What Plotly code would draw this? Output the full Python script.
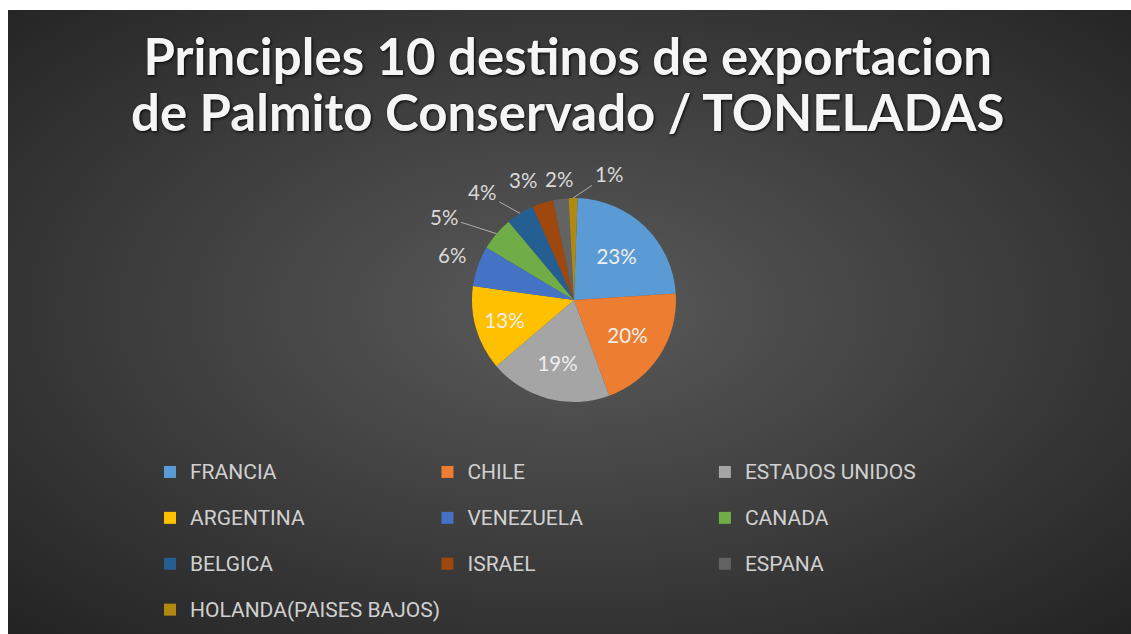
import base64
import math
import plotly.graph_objects as go

# Export destinations of preserved heart of palm (tonnes)
destinos = ["FRANCIA", "CHILE", "ESTADOS UNIDOS", "ARGENTINA", "VENEZUELA",
            "CANADA", "BELGICA", "ISRAEL", "ESPANA", "HOLANDA(PAISES BAJOS)"]
toneladas = [2340, 2040, 1935, 1340, 640, 535, 440, 335, 245, 140]
colores = ["#5B9BD5", "#ED7D31", "#A5A5A5", "#FFC000", "#4472C4",
           "#70AD47", "#255E91", "#9E480E", "#636363", "#B08A10"]

titulo_lineas = ["Principles 10 destinos de exportacion",
                 "de Palmito Conservado / TONELADAS"]

W, H = 1131, 634
MR = 30                            # right margin (narrows the legend row width)
PW = W - MR                        # plotting width in pixels
CX, CY, R = 574, 300, 102          # pie centre and radius in pixels
ROT = 2                            # first slice starts 2 degrees past 12 o'clock
N_DENTRO = 4                       # the four largest slices carry their label inside
FUENTE = "Lato, sans-serif"

# Radial dark background for the chart area
svg = (
    '<svg xmlns="http://www.w3.org/2000/svg" width="1123" height="624">'
    '<defs><radialGradient id="g" cx="50%" cy="48%" r="72%">'
    '<stop offset="0" stop-color="#5a5a5a"/>'
    '<stop offset="0.55" stop-color="#3c3c3c"/>'
    '<stop offset="1" stop-color="#232323"/>'
    '</radialGradient></defs>'
    '<rect width="1123" height="624" fill="url(#g)"/></svg>'
)
fondo = "data:image/svg+xml;base64," + base64.b64encode(svg.encode()).decode()

# Legend entries: glyphs at 21px inside a 33px line box so rows sit ~46px apart
etiquetas_leyenda = [
    f"<span style='font-size:21px;baseline-shift:6px'>{d}</span>" for d in destinos
]
titulo = "<br>".join(f"<span style='font-size:51px'>{t}</span>" for t in titulo_lineas)
total = sum(toneladas)

fig = go.Figure(go.Pie(
    labels=etiquetas_leyenda,
    values=toneladas,
    sort=False,
    direction="clockwise",
    rotation=ROT,
    marker=dict(colors=colores, line=dict(width=0)),
    texttemplate=["%{percent:.0%}"] * N_DENTRO + [""] * (len(destinos) - N_DENTRO),
    textposition="inside",
    insidetextorientation="horizontal",
    insidetextfont=dict(color="#eeeeee", size=20.5, family=FUENTE),
    hovertemplate="%{customdata}: %{value} t<extra></extra>",
    customdata=destinos,
    domain=dict(x=[(CX - 180) / PW, (CX + 180) / PW],
                y=[(H - CY - R) / H, (H - CY + R) / H]),
))

# Outside percentage labels for the small slices, anchored on each slice's rim.
# (dx, dy) is the label offset in pixels from the rim point; lineas marks leader lines.
desplazamientos = [(-26, -11), (-53, -17), (-38, -21), (-20, -23), (-2, -20), (36, -24)]
lineas = [False, True, True, False, False, True]
acum = 0.0
for i, v in enumerate(toneladas):
    medio = acum + v / 2
    acum += v
    if i < N_DENTRO:
        continue
    ang = math.radians(ROT + 360 * medio / total)
    px = CX + R * math.sin(ang)
    py = CY - R * math.cos(ang)
    dx, dy = desplazamientos[i - N_DENTRO]
    fig.add_annotation(
        x=px / PW, y=1 - py / H, xref="paper", yref="paper",
        text=f"{round(100 * v / total)}%",
        showarrow=True, arrowhead=0, arrowwidth=1,
        arrowcolor="rgba(200,200,200,0.8)" if lineas[i - N_DENTRO] else "rgba(0,0,0,0)",
        ax=dx, ay=dy, standoff=0, startstandoff=2,
        font=dict(color="#d9d9d9", size=20.5, family=FUENTE),
    )

fig.update_layout(
    width=W, height=H,
    margin=dict(l=0, r=MR, t=0, b=0, autoexpand=False),
    paper_bgcolor="white",
    images=[dict(source=fondo, xref="paper", yref="paper",
                 x=8 / PW, y=1 - 10 / H, sizex=(W - 8) / PW, sizey=(H - 10) / H,
                 xanchor="left", yanchor="top", sizing="stretch", layer="below")],
    title=dict(
        text=titulo, x=0.502, xanchor="center", y=1 - 75 / H, yanchor="top",
        font=dict(family=FUENTE, size=43, color="#f5f5f5",
                  weight="bold", shadow="1px 1px 3px rgba(0,0,0,0.9)"),
    ),
    legend=dict(
        orientation="h", x=150 / PW, xanchor="left", y=1 - 444 / H, yanchor="top",
        entrywidth=0.252, entrywidthmode="fraction", itemwidth=30,
        font=dict(family="Roboto, sans-serif", size=33, color="#d0d0d0"),
        bgcolor="rgba(0,0,0,0)", traceorder="normal",
    ),
    showlegend=True,
)

fig.write_html("out.html")
